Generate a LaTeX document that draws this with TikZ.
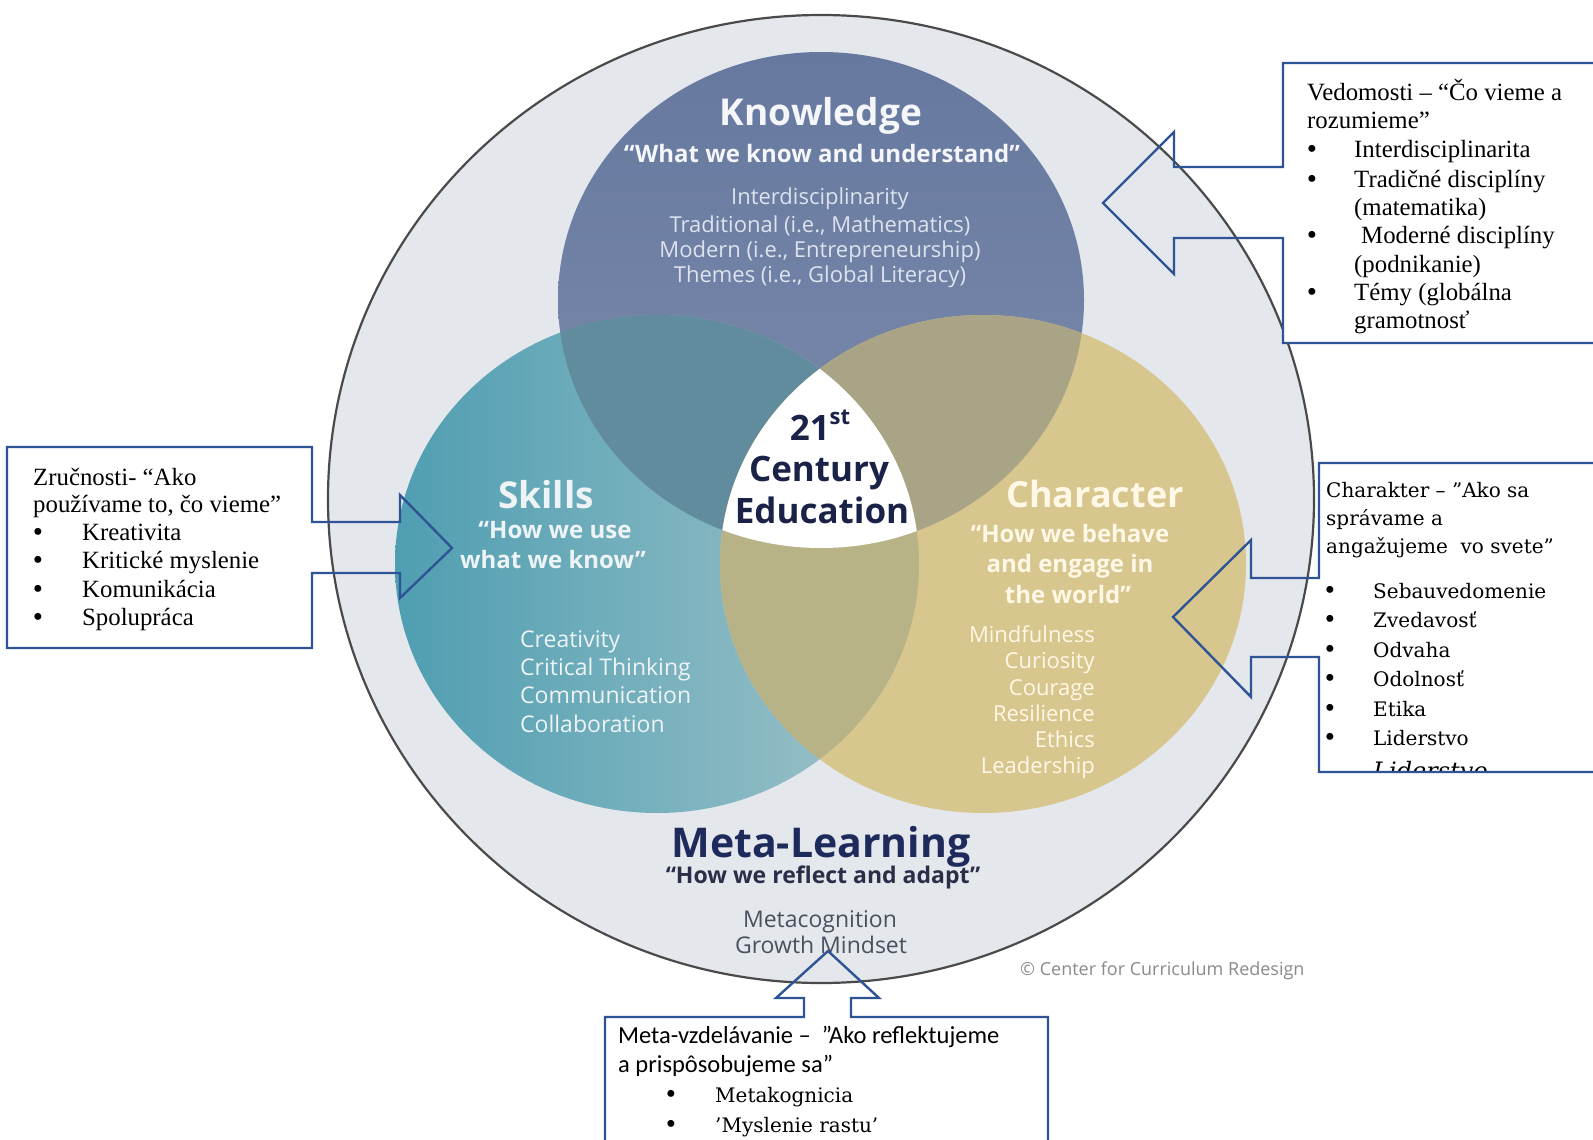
\documentclass[tikz,border=0pt]{standalone}
\usepackage{fontspec}
\setmainfont{Liberation Serif}
\newfontfamily\osans{Open Sans}
\newfontfamily\dserif{DejaVu Serif}
\newfontfamily\carl{Carlito}
\newfontfamily\lserif{Liberation Serif}
\newcommand{\fsz}[1]{\fontsize{#1}{#1}\selectfont}
\definecolor{outerfill}{HTML}{E4E7EC}
\definecolor{outerline}{HTML}{4A4A4A}
\definecolor{kntop}{HTML}{66789E}
\definecolor{knbot}{HTML}{7C8CAD}
\definecolor{skl}{HTML}{4E9EB1}
\definecolor{skr}{HTML}{A3C4CA}
\definecolor{chr}{HTML}{D8C68F}
\definecolor{ks}{HTML}{618C9D}
\definecolor{kc}{HTML}{AAA486}
\definecolor{sc}{HTML}{B8B386}
\definecolor{navy}{HTML}{1A2248}
\definecolor{metanavy}{HTML}{1E2A5C}
\definecolor{metaq}{HTML}{2A2E48}
\definecolor{metal}{HTML}{4B4F5E}
\definecolor{copyc}{HTML}{8A8A8A}
\definecolor{boxblue}{HTML}{2F5496}
\definecolor{ktext}{HTML}{F4F6FA}
\definecolor{klist}{HTML}{DDE3EE}
\definecolor{stext}{HTML}{EEF4F6}
\definecolor{ctext}{HTML}{FFF8E6}
\begin{document}
\begin{tikzpicture}[x=1pt,y=-1pt,
  box/.style={draw=boxblue, line width=2.4pt, line join=miter},
  ctr/.style={anchor=base, inner sep=0pt},
  ttl/.style={ctr, font={\osans\bfseries\fsz{37}}},
  quo/.style={ctr, font={\osans\bfseries\fsz{24}}},
  vtxt/.style={anchor=base west, inner sep=0pt, font={\lserif\fsz{24.8}}},
  ctxt/.style={anchor=base west, inner sep=0pt, font={\dserif\fsz{20}}},
  mtxt/.style={anchor=base west, inner sep=0pt, font={\carl\fsz{24.5}}},
  bul/.style={anchor=base, inner sep=0pt, font={\lserif\fsz{29}}}]
\useasboundingbox (0,0) rectangle (1593,1140);
\clip (0,0) rectangle (1593,1140);
\fill[white] (0,0) rectangle (1593,1140);

% outer circle
\filldraw[fill=outerfill, draw=outerline, line width=2.2pt] (821,499) ellipse [x radius=493pt, y radius=484pt];

\def\KP{(821,300) ellipse [x radius=263pt, y radius=248pt]}
\def\SP{(657,564) ellipse [x radius=262pt, y radius=249pt]}
\def\CP{(983,564) ellipse [x radius=263pt, y radius=249pt]}

\begin{scope} \clip \KP; \shade[top color=kntop, bottom color=knbot] (550,45) rectangle (1092,555); \end{scope}
\begin{scope} \clip \SP; \shade[left color=skl, right color=skr] (390,310) rectangle (925,820); \end{scope}
\fill[chr] \CP;
\begin{scope} \clip \KP; \fill[ks] \SP; \end{scope}
\begin{scope} \clip \KP; \fill[kc] \CP; \end{scope}
\begin{scope} \clip \SP; \fill[sc] \CP; \end{scope}
\begin{scope} \clip \KP; \clip \SP; \fill[white] \CP; \end{scope}

% Knowledge
\node[ttl, text=ktext] (kt) at (821,125) {Knowledge};
\node[quo, text=ktext] (kq) at (822,162) {“What we know and understand”};
\begin{scope}[every node/.style={ctr, font={\osans\fsz{22}}, text=klist}]
\node (k1) at (820,204) {Interdisciplinarity};
\node (k2) at (820,232) {Traditional (i.e., Mathematics)};
\node (k3) at (820,257) {Modern (i.e., Entrepreneurship)};
\node (k4) at (820,282) {Themes (i.e., Global Literacy)};
\end{scope}

% Skills
\node[ttl, text=stext] (st) at (546,508) {Skills};
\node[quo, text=stext] (sq1) at (555,538) {“How we use};
\node[quo, text=stext] (sq2) at (553,568) {what we know”};
\begin{scope}[every node/.style={anchor=base west, inner sep=0pt, font={\osans\fsz{23}}, text=stext}]
\node (s1) at (520,647) {Creativity};
\node (s2) at (520,675) {Critical Thinking};
\node (s3) at (520,703) {Communication};
\node (s4) at (520,732) {Collaboration};
\end{scope}

% Center
\node[ctr, font={\osans\bfseries\fsz{35}}, text=navy] (c1) at (820,440) {21\raisebox{0.45em}{\fsz{22}st}};
\node[ctr, font={\osans\bfseries\fsz{35}}, text=navy] (c2) at (819,481) {Century};
\node[ctr, font={\osans\bfseries\fsz{35}}, text=navy] (c3) at (822,523) {Education};

% Character
\node[ttl, font={\osans\bfseries\fsz{36}}, text=ctext] (ct) at (1095,507) {Character};
\node[quo, text=ctext] (cq1) at (1070,542) {“How we behave};
\node[quo, text=ctext] (cq2) at (1070,572) {and engage in};
\node[quo, text=ctext] (cq3) at (1068,603) {the world”};
\begin{scope}[every node/.style={anchor=base east, inner sep=0pt, font={\osans\fsz{22}}, text=ctext}]
\node (ch1) at (1095,642) {Mindfulness};
\node (ch2) at (1095,668) {Curiosity};
\node (ch3) at (1095,695) {Courage};
\node (ch4) at (1095,721) {Resilience};
\node (ch5) at (1095,747) {Ethics};
\node (ch6) at (1095,773) {Leadership};
\end{scope}

% Meta-Learning
\node[ctr, font={\osans\bfseries\fsz{41}}, text=metanavy] (mt) at (821,857) {Meta-Learning};
\node[ctr, font={\osans\bfseries\fsz{23}}, text=metaq] (mq) at (823,883) {“How we reflect and adapt”};
\node[ctr, font={\osans\fsz{23}}, text=metal] (m1) at (820,927) {Metacognition};
\node[ctr, font={\osans\fsz{23}}, text=metal] (m2) at (821,953) {Growth Mindset};
\node[anchor=base west, inner sep=0pt, font={\osans\fsz{18}}, text=copyc] (copy) at (1020,975) {© Center for Curriculum Redesign};

% ---- Callout: Vedomosti
\fill[white] (1283,63) rectangle (1600,343);
\draw[box] (1600,63) -- (1283,63) -- (1283,167) -- (1174,167) -- (1174,132) -- (1103,203) -- (1174,274) -- (1174,238) -- (1283,238) -- (1283,343) -- (1600,343);
\node[vtxt] (v1) at (1307,100) {Vedomosti – “Čo vieme a};
\node[vtxt] (v2) at (1307,128) {rozumieme”};
\node[bul] (vb1) at (1312,158) {•};
\node[vtxt] (v3) at (1354,157) {Interdisciplinarita};
\node[bul] (vb2) at (1312,188) {•};
\node[vtxt] (v4) at (1354,187) {Tradičné disciplíny};
\node[vtxt] (v5) at (1354,215) {(matematika)};
\node[bul] (vb3) at (1312,244) {•};
\node[vtxt] (v6) at (1361,243) {Moderné disciplíny};
\node[vtxt] (v7) at (1354,272) {(podnikanie)};
\node[bul] (vb4) at (1312,301) {•};
\node[vtxt] (v8) at (1354,300) {Témy (globálna};
\node[vtxt] (v9) at (1354,328) {gramotnosť};

% ---- Callout: Zručnosti
\fill[white] (7,447) rectangle (312,648);
\draw[box] (312,522) -- (312,447) -- (7,447) -- (7,648) -- (312,648) -- (312,573) -- (400,573) -- (400,598) -- (452,548) -- (400,495) -- (400,522) -- cycle;
\node[vtxt] (z1) at (33,485) {Zručnosti- “Ako};
\node[vtxt] (z2) at (33,512) {používame to, čo vieme”};
\node[bul] (zb1) at (38,541) {•};
\node[vtxt] (z3) at (82,540) {Kreativita};
\node[bul] (zb2) at (38,569) {•};
\node[vtxt] (z4) at (82,568) {Kritické myslenie};
\node[bul] (zb3) at (38,598) {•};
\node[vtxt] (z5) at (82,597) {Komunikácia};
\node[bul] (zb4) at (38,626) {•};
\node[vtxt] (z6) at (82,625) {Spolupráca};

% ---- Callout: Charakter
\fill[white] (1319,463) rectangle (1600,772);
\begin{scope}
\clip (1319,463) rectangle (1600,771);
\node[anchor=base west, inner sep=0pt, font={\dserif\itshape\fsz{24}}] (cx) at (1373,779) {Liderstvo};
\end{scope}
\draw[box] (1600,463) -- (1319,463) -- (1319,578) -- (1251,578) -- (1251,540) -- (1173,617) -- (1251,697) -- (1251,657) -- (1319,657) -- (1319,772) -- (1600,772);
\node[ctxt] (h1) at (1326,497) {Charakter – ”Ako sa};
\node[ctxt] (h2) at (1326,525) {správame a};
\node[ctxt] (h3) at (1326,553) {angažujeme\ \ vo svete”};
\node[bul] (hb1) at (1330,599) {•};
\node[ctxt] (h4) at (1373,598) {Sebauvedomenie};
\node[bul] (hb2) at (1330,628) {•};
\node[ctxt] (h5) at (1373,627) {Zvedavosť};
\node[bul] (hb3) at (1330,658) {•};
\node[ctxt] (h6) at (1373,657) {Odvaha};
\node[bul] (hb4) at (1330,687) {•};
\node[ctxt] (h7) at (1373,686) {Odolnosť};
\node[bul] (hb5) at (1330,717) {•};
\node[ctxt] (h8) at (1373,716) {Etika};
\node[bul] (hb6) at (1330,746) {•};
\node[ctxt] (h9) at (1373,745) {Liderstvo};

% ---- Callout: Meta-vzdelávanie
\fill[white] (605,1017) rectangle (1048,1150);
\draw[box] (605,1150) -- (605,1017) -- (804,1017) -- (804,998) -- (776,998) -- (828,951) -- (879,998) -- (851,998) -- (851,1017) -- (1048,1017) -- (1048,1150);
\node[mtxt] (e1) at (618,1043) {Meta-vzdelávanie –\ \ ”Ako reflektujeme};
\node[mtxt] (e2) at (618,1072) {a prispôsobujeme sa”};
\node[bul] (eb1) at (671,1103) {•};
\node[ctxt] (e3) at (715,1102) {Metakognicia};
\node[bul] (eb2) at (671,1133) {•};
\node[ctxt] (e4) at (715,1132) {’Myslenie rastu’};
\end{tikzpicture}
\end{document}
